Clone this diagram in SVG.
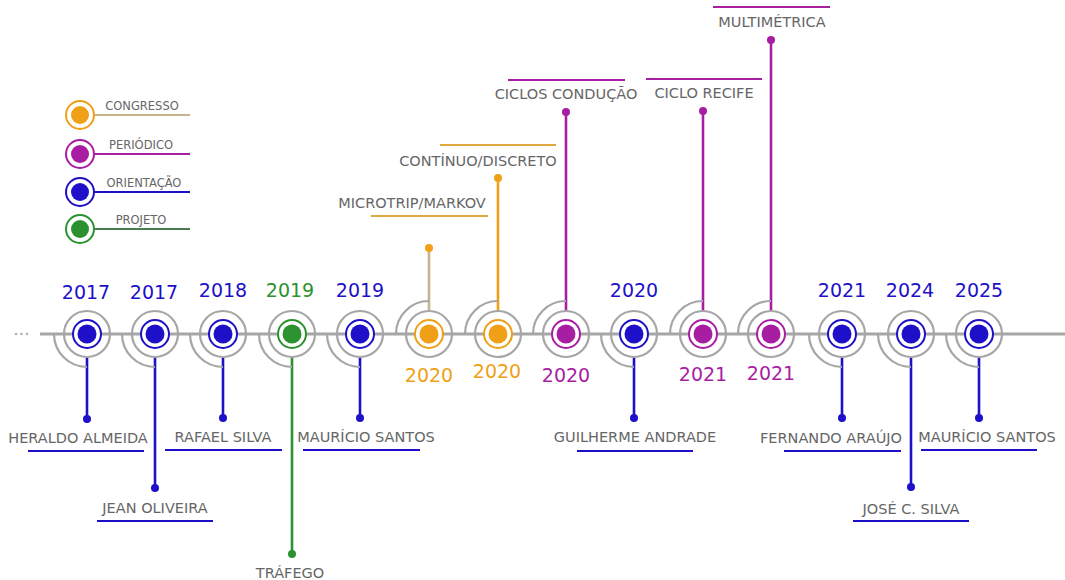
<svg xmlns="http://www.w3.org/2000/svg" width="1065" height="580" viewBox="0 0 1065 580">
  <style>
    text { font-family: "DejaVu Sans", Verdana, sans-serif; }
    .lbl { font-size: 14.5px; fill: #666666; text-anchor: middle; }
    .leg { font-size: 11.5px; fill: #666666; text-anchor: middle; }
    .yr { font-size: 19px; text-anchor: middle; }
    .ring { fill: none; stroke: #a6a6a6; stroke-width: 2.2; }
    .arc { fill: none; stroke: #a6a6a6; stroke-width: 2.2; }
    .inner { fill: #ffffff; stroke-width: 2; }
    .stem { stroke-width: 2.6; fill: none; }
    .bar { stroke-width: 2; fill: none; }
    .b { stroke: #1d10c8; } .bf { fill: #1d10c8; }
    .p { stroke: #a81ea3; } .pf { fill: #a81ea3; }
    .o { stroke: #f0a016; } .of { fill: #f0a016; }
    .g { stroke: #2b922f; } .gf { fill: #2b922f; }
    .tan { stroke: #c8b48c; }
    .obar { stroke: #e0a840; }
  </style>

  <!-- legend -->
  <g id="legend">
    <g id="leg-congresso">
      <line x1="94" y1="115" x2="190" y2="115" class="bar tan"/>
      <circle cx="80" cy="115" r="14" class="inner o"/>
      <circle cx="80" cy="115" r="9" class="of"/>
      <text x="142" y="110" class="leg">CONGRESSO</text>
    </g>
    <g id="leg-periodico">
      <line x1="94" y1="154" x2="190" y2="154" class="bar p"/>
      <circle cx="80" cy="154" r="14" class="inner p"/>
      <circle cx="80" cy="154" r="9" class="pf"/>
      <text x="141" y="149" class="leg">PERIÓDICO</text>
    </g>
    <g id="leg-orientacao">
      <line x1="94" y1="192" x2="190" y2="192" class="bar b"/>
      <circle cx="80" cy="192" r="14" class="inner b"/>
      <circle cx="80" cy="192" r="9" class="bf"/>
      <text x="144" y="187" class="leg">ORIENTAÇÃO</text>
    </g>
    <g id="leg-projeto">
      <line x1="94" y1="229" x2="190" y2="229" class="bar" stroke="#4a7c52"/>
      <circle cx="80" cy="229" r="14" class="inner g"/>
      <circle cx="80" cy="229" r="9" class="gf"/>
      <text x="141" y="224" class="leg">PROJETO</text>
    </g>
  </g>

  <!-- axis and stems -->
  <g id="connectors">
    <circle cx="16" cy="334" r="1.3" fill="#b0b0b0"/>
    <circle cx="21.5" cy="334" r="1.3" fill="#b0b0b0"/>
    <circle cx="27" cy="334" r="1.3" fill="#b0b0b0"/>
    <line x1="40" y1="334" x2="1065" y2="334" stroke="#a6a6a6" stroke-width="3"/>

    <line x1="87" y1="357" x2="87" y2="419" class="stem b"/><circle cx="87" cy="419" r="4" class="bf"/>
    <line x1="155" y1="357" x2="155" y2="488" class="stem b"/><circle cx="155" cy="488" r="4" class="bf"/>
    <line x1="223" y1="357" x2="223" y2="418" class="stem b"/><circle cx="223" cy="418" r="4" class="bf"/>
    <line x1="292" y1="357" x2="292" y2="554" class="stem g"/><circle cx="292" cy="554" r="4" class="gf"/>
    <line x1="360" y1="357" x2="360" y2="418" class="stem b"/><circle cx="360" cy="418" r="4" class="bf"/>
    <line x1="429" y1="311" x2="429" y2="248" class="stem tan"/><circle cx="429" cy="248" r="4" class="of"/>
    <line x1="498" y1="311" x2="498" y2="178" class="stem o"/><circle cx="498" cy="178" r="4" class="of"/>
    <line x1="566" y1="311" x2="566" y2="112" class="stem p"/><circle cx="566" cy="112" r="4" class="pf"/>
    <line x1="634" y1="357" x2="634" y2="418" class="stem b"/><circle cx="634" cy="418" r="4" class="bf"/>
    <line x1="703" y1="311" x2="703" y2="111" class="stem p"/><circle cx="703" cy="111" r="4" class="pf"/>
    <line x1="771" y1="311" x2="771" y2="40" class="stem p"/><circle cx="771" cy="40" r="4" class="pf"/>
    <line x1="842" y1="357" x2="842" y2="418" class="stem b"/><circle cx="842" cy="418" r="4" class="bf"/>
    <line x1="911" y1="357" x2="911" y2="487" class="stem b"/><circle cx="911" cy="487" r="4" class="bf"/>
    <line x1="979" y1="357" x2="979" y2="418" class="stem b"/><circle cx="979" cy="418" r="4" class="bf"/>
  </g>

  <!-- timeline nodes -->
  <g id="n2017a">
    <path class="arc" d="M54,334 A33,33 0 0 0 87,367"/>
    <circle cx="87" cy="334" r="23" class="ring"/>
    <circle cx="87" cy="334" r="14" class="inner b"/>
    <circle cx="87" cy="334" r="9.5" class="bf"/>
    <text x="86" y="299" class="yr bf">2017</text>
    <text x="78" y="443" class="lbl">HERALDO ALMEIDA</text>
    <line x1="28" y1="451" x2="144" y2="451" class="bar b"/>
  </g>
  <g id="n2017b">
    <path class="arc" d="M122,334 A33,33 0 0 0 155,367"/>
    <circle cx="155" cy="334" r="23" class="ring"/>
    <circle cx="155" cy="334" r="14" class="inner b"/>
    <circle cx="155" cy="334" r="9.5" class="bf"/>
    <text x="154" y="299" class="yr bf">2017</text>
    <text x="155" y="513" class="lbl">JEAN OLIVEIRA</text>
    <line x1="97" y1="521" x2="213" y2="521" class="bar b"/>
  </g>
  <g id="n2018">
    <path class="arc" d="M190,334 A33,33 0 0 0 223,367"/>
    <circle cx="223" cy="334" r="23" class="ring"/>
    <circle cx="223" cy="334" r="14" class="inner b"/>
    <circle cx="223" cy="334" r="9.5" class="bf"/>
    <text x="223" y="297" class="yr bf">2018</text>
    <text x="223" y="442" class="lbl">RAFAEL SILVA</text>
    <line x1="165" y1="450" x2="282" y2="450" class="bar b"/>
  </g>
  <g id="n2019a">
    <path class="arc" d="M259,334 A33,33 0 0 0 292,367"/>
    <circle cx="292" cy="334" r="23" class="ring"/>
    <circle cx="292" cy="334" r="14" class="inner g"/>
    <circle cx="292" cy="334" r="9.5" class="gf"/>
    <text x="290" y="297" class="yr gf">2019</text>
    <text x="290" y="578" class="lbl">TRÁFEGO</text>
  </g>
  <g id="n2019b">
    <path class="arc" d="M327,334 A33,33 0 0 0 360,367"/>
    <circle cx="360" cy="334" r="23" class="ring"/>
    <circle cx="360" cy="334" r="14" class="inner b"/>
    <circle cx="360" cy="334" r="9.5" class="bf"/>
    <text x="360" y="297" class="yr bf">2019</text>
    <text x="366" y="442" class="lbl">MAURÍCIO SANTOS</text>
    <line x1="303" y1="450" x2="420" y2="450" class="bar b"/>
  </g>
  <g id="n2020a">
    <path class="arc" d="M396,334 A33,33 0 0 1 429,301"/>
    <circle cx="429" cy="334" r="23" class="ring"/>
    <circle cx="429" cy="334" r="14" class="inner o"/>
    <circle cx="429" cy="334" r="9.5" class="of"/>
    <text x="429" y="382" class="yr of">2020</text>
    <text x="412" y="208" class="lbl">MICROTRIP/MARKOV</text>
    <line x1="371" y1="216" x2="488" y2="216" class="bar obar"/>
  </g>
  <g id="n2020b">
    <path class="arc" d="M465,334 A33,33 0 0 1 498,301"/>
    <circle cx="498" cy="334" r="23" class="ring"/>
    <circle cx="498" cy="334" r="14" class="inner o"/>
    <circle cx="498" cy="334" r="9.5" class="of"/>
    <text x="497" y="378" class="yr of">2020</text>
    <text x="478" y="166" class="lbl">CONTÍNUO/DISCRETO</text>
    <line x1="440" y1="145" x2="556" y2="145" class="bar obar"/>
  </g>
  <g id="n2020c">
    <path class="arc" d="M533,334 A33,33 0 0 1 566,301"/>
    <circle cx="566" cy="334" r="23" class="ring"/>
    <circle cx="566" cy="334" r="14" class="inner p"/>
    <circle cx="566" cy="334" r="9.5" class="pf"/>
    <text x="566" y="382" class="yr pf">2020</text>
    <text x="566" y="99" class="lbl">CICLOS CONDUÇÃO</text>
    <line x1="508" y1="80" x2="625" y2="80" class="bar p"/>
  </g>
  <g id="n2020d">
    <path class="arc" d="M601,334 A33,33 0 0 0 634,367"/>
    <circle cx="634" cy="334" r="23" class="ring"/>
    <circle cx="634" cy="334" r="14" class="inner b"/>
    <circle cx="634" cy="334" r="9.5" class="bf"/>
    <text x="634" y="297" class="yr bf">2020</text>
    <text x="635" y="442" class="lbl">GUILHERME ANDRADE</text>
    <line x1="577" y1="451" x2="693" y2="451" class="bar b"/>
  </g>
  <g id="n2021a">
    <path class="arc" d="M670,334 A33,33 0 0 1 703,301"/>
    <circle cx="703" cy="334" r="23" class="ring"/>
    <circle cx="703" cy="334" r="14" class="inner p"/>
    <circle cx="703" cy="334" r="9.5" class="pf"/>
    <text x="703" y="381" class="yr pf">2021</text>
    <text x="704" y="98" class="lbl">CICLO RECIFE</text>
    <line x1="646" y1="79" x2="762" y2="79" class="bar p"/>
  </g>
  <g id="n2021b">
    <path class="arc" d="M738,334 A33,33 0 0 1 771,301"/>
    <circle cx="771" cy="334" r="23" class="ring"/>
    <circle cx="771" cy="334" r="14" class="inner p"/>
    <circle cx="771" cy="334" r="9.5" class="pf"/>
    <text x="771" y="380" class="yr pf">2021</text>
    <text x="772" y="27" class="lbl">MULTIMÉTRICA</text>
    <line x1="713" y1="7" x2="830" y2="7" class="bar p"/>
  </g>
  <g id="n2021c">
    <path class="arc" d="M809,334 A33,33 0 0 0 842,367"/>
    <circle cx="842" cy="334" r="23" class="ring"/>
    <circle cx="842" cy="334" r="14" class="inner b"/>
    <circle cx="842" cy="334" r="9.5" class="bf"/>
    <text x="842" y="297" class="yr bf">2021</text>
    <text x="831" y="443" class="lbl">FERNANDO ARAÚJO</text>
    <line x1="784" y1="451" x2="901" y2="451" class="bar b"/>
  </g>
  <g id="n2024">
    <path class="arc" d="M878,334 A33,33 0 0 0 911,367"/>
    <circle cx="911" cy="334" r="23" class="ring"/>
    <circle cx="911" cy="334" r="14" class="inner b"/>
    <circle cx="911" cy="334" r="9.5" class="bf"/>
    <text x="910" y="297" class="yr bf">2024</text>
    <text x="911" y="514" class="lbl">JOSÉ C. SILVA</text>
    <line x1="853" y1="521" x2="969" y2="521" class="bar b"/>
  </g>
  <g id="n2025">
    <path class="arc" d="M946,334 A33,33 0 0 0 979,367"/>
    <circle cx="979" cy="334" r="23" class="ring"/>
    <circle cx="979" cy="334" r="14" class="inner b"/>
    <circle cx="979" cy="334" r="9.5" class="bf"/>
    <text x="979" y="297" class="yr bf">2025</text>
    <text x="987" y="442" class="lbl">MAURÍCIO SANTOS</text>
    <line x1="921" y1="450" x2="1037" y2="450" class="bar b"/>
  </g>
</svg>
